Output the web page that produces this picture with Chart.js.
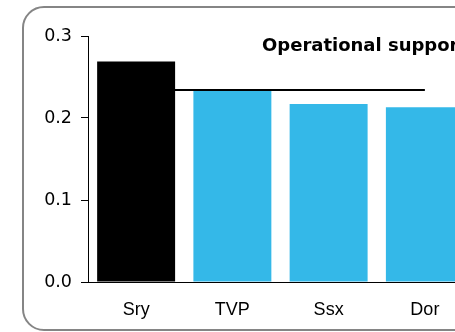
<!DOCTYPE html>
<html>
<head>
<meta charset="utf-8">
<script src="https://cdn.jsdelivr.net/npm/chart.js@4"></script>
<style>
	html, body { margin: 0; padding: 0; background: #fff; overflow: hidden; }
	#frame {
		position: absolute; left: 22px; top: 6px; width: 600px; height: 325px;
		box-sizing: border-box; border: 2px solid #858585; border-radius: 22px;
	}
	#chart { position: absolute; left: 0; top: 0; }
</style>
</head>
<body>
<div id="frame"></div>
<canvas id="chart" width="520" height="332"></canvas>
<script>
// chart data
const categories = ['Sry', 'TVP', 'Ssx', 'Dor']
const costValues = [0.269, 0.233, 0.217, 0.213]
const averageValues = [0.234, 0.234, 0.234, 0.234]
const barColours = ['#000000', '#34B8E8', '#34B8E8', '#34B8E8']
const yTicks = [0, 0.1, 0.2, 0.3]
const titleText = 'Operational support'

// draw the title inside the plot area, like the original
const titleInPlot = {
	id: 'titleInPlot',
	afterDraw(chart) {
		const { ctx, chartArea } = chart
		ctx.save()
		ctx.font = 'bold 18px "DejaVu Sans", Verdana, sans-serif'
		ctx.fillStyle = '#000'
		ctx.textAlign = 'left'
		ctx.textBaseline = 'alphabetic'
		ctx.fillText(titleText, chartArea.left + 174, chartArea.top + 15)
		ctx.restore()
	},
}

Chart.defaults.font.family = '"Liberation Sans", Arial, sans-serif'
Chart.defaults.color = '#000'

new Chart(document.getElementById('chart'), {
	data: {
		labels: categories,
		datasets: [
			{
				type: 'bar',
				data: costValues,
				backgroundColor: barColours,
				borderWidth: 0,
				barPercentage: 0.81,
				categoryPercentage: 1,
				order: 1,
			},
			{
				type: 'line',
				data: averageValues,
				borderColor: '#000',
				borderWidth: 2,
				pointRadius: 0,
				order: 2,
			},
		],
	},
	options: {
		responsive: false,
		animation: false,
		layout: { padding: { top: 36, right: 47, bottom: 0, left: 0 } },
		plugins: { legend: { display: false }, tooltip: { enabled: false } },
		scales: {
			x: {
				grid: { display: false, drawTicks: false },
				border: { display: true, color: '#000', width: 1 },
				ticks: { font: { size: 18 }, padding: 17 },
				afterFit: (scale) => { scale.height = 50 },
			},
			y: {
				min: 0,
				max: 0.3,
				afterBuildTicks: (scale) => {
					scale.ticks = yTicks.map((v) => ({ value: v }))
				},
				grid: { drawOnChartArea: false, tickLength: 7, color: '#000' },
				border: { display: true, color: '#000', width: 1 },
				ticks: {
					font: { size: 17.5, family: '"DejaVu Sans", Verdana, sans-serif' },
					padding: 9,
					callback: (v) => v.toFixed(1),
				},
				afterFit: (scale) => { scale.width = 88 },
			},
		},
	},
	plugins: [titleInPlot],
})
</script>
</body>
</html>
